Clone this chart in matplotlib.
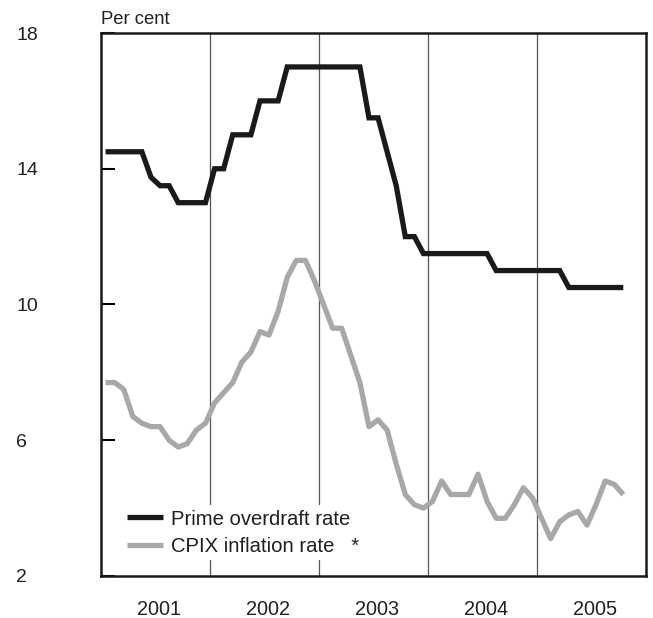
import numpy as np
from matplotlib import pyplot as plt

plt.rcParams['font.family'] = ['Liberation Sans', 'DejaVu Sans']

# monthly data, Jan 2001 - Oct 2005
prime_rate = [14.5, 14.5, 14.5, 14.5, 14.5, 13.75, 13.5, 13.5, 13.0, 13.0, 13.0, 13.0,
              14.0, 14.0, 15.0, 15.0, 15.0, 16.0, 16.0, 16.0, 17.0, 17.0, 17.0, 17.0,
              17.0, 17.0, 17.0, 17.0, 17.0, 15.5, 15.5, 14.5, 13.5, 12.0, 12.0, 11.5,
              11.5, 11.5, 11.5, 11.5, 11.5, 11.5, 11.5, 11.0, 11.0, 11.0, 11.0, 11.0,
              11.0, 11.0, 11.0, 10.5, 10.5, 10.5, 10.5, 10.5, 10.5, 10.5]
cpix = [7.7, 7.7, 7.5, 6.7, 6.5, 6.4, 6.4, 6.0, 5.8, 5.9, 6.3, 6.5,
        7.1, 7.4, 7.7, 8.3, 8.6, 9.2, 9.1, 9.8, 10.8, 11.3, 11.3, 10.7,
        10.0, 9.3, 9.3, 8.5, 7.7, 6.4, 6.6, 6.3, 5.3, 4.4, 4.1, 4.0,
        4.2, 4.8, 4.4, 4.4, 4.4, 5.0, 4.2, 3.7, 3.7, 4.1, 4.6, 4.3,
        3.7, 3.1, 3.6, 3.8, 3.9, 3.5, 4.1, 4.8, 4.7, 4.4]
years = [2001, 2002, 2003, 2004, 2005]
y_ticks = [2, 6, 10, 14, 18]

start_year = years[0]
months = np.arange(len(prime_rate))
x = start_year + (months + 0.5) / 12

txt = '#231f20'

fig = plt.figure(figsize=(6.53, 6.18), dpi=100)
ax = fig.add_axes([0.1547, 0.068, 0.8346, 0.8786])

for yr in years[1:]:
    ax.axvline(yr, color='#555555', lw=0.9, zorder=1)

ax.plot(x, prime_rate, color='#1a1a1a', lw=3.8, solid_joinstyle='miter',
        solid_capstyle='butt', zorder=3, label='Prime overdraft rate')
ax.plot(x, cpix, color='#a7a8aa', lw=3.8, solid_joinstyle='round',
        solid_capstyle='butt', zorder=2, label='CPIX inflation rate   *')

ax.set_xlim(years[0], years[-1] + 1)
ax.set_ylim(2, 18)

ax.set_yticks(y_ticks)
ax.set_yticklabels([str(v) for v in y_ticks])
ax.tick_params(axis='y', direction='in', length=10, width=1.5, pad=61,
               labelsize=14, labelcolor=txt)
for lab in ax.get_yticklabels():
    lab.set_horizontalalignment('left')

ax.set_xticks([yr + 0.53 for yr in years])
ax.set_xticklabels([str(yr) for yr in years])
ax.tick_params(axis='x', length=0, pad=17, labelsize=14.3, labelcolor=txt)

for sp in ax.spines.values():
    sp.set_linewidth(1.8)
    sp.set_color('#1a1a1a')

ax.text(0, 1.01, 'Per cent', transform=ax.transAxes, ha='left', va='bottom',
        fontsize=13.3, color=txt)

leg = ax.legend(loc='lower left', bbox_to_anchor=(0.041, 0.03), frameon=True,
                fontsize=14.6, handlelength=1.75, handletextpad=0.42,
                labelspacing=0.4, borderpad=0.2, borderaxespad=0)
leg.get_frame().set_facecolor('white')
leg.get_frame().set_edgecolor('none')
leg.get_frame().set_alpha(1)
leg.set_zorder(5)
for t in leg.get_texts():
    t.set_color(txt)

fig.savefig('out.png', dpi=100)
